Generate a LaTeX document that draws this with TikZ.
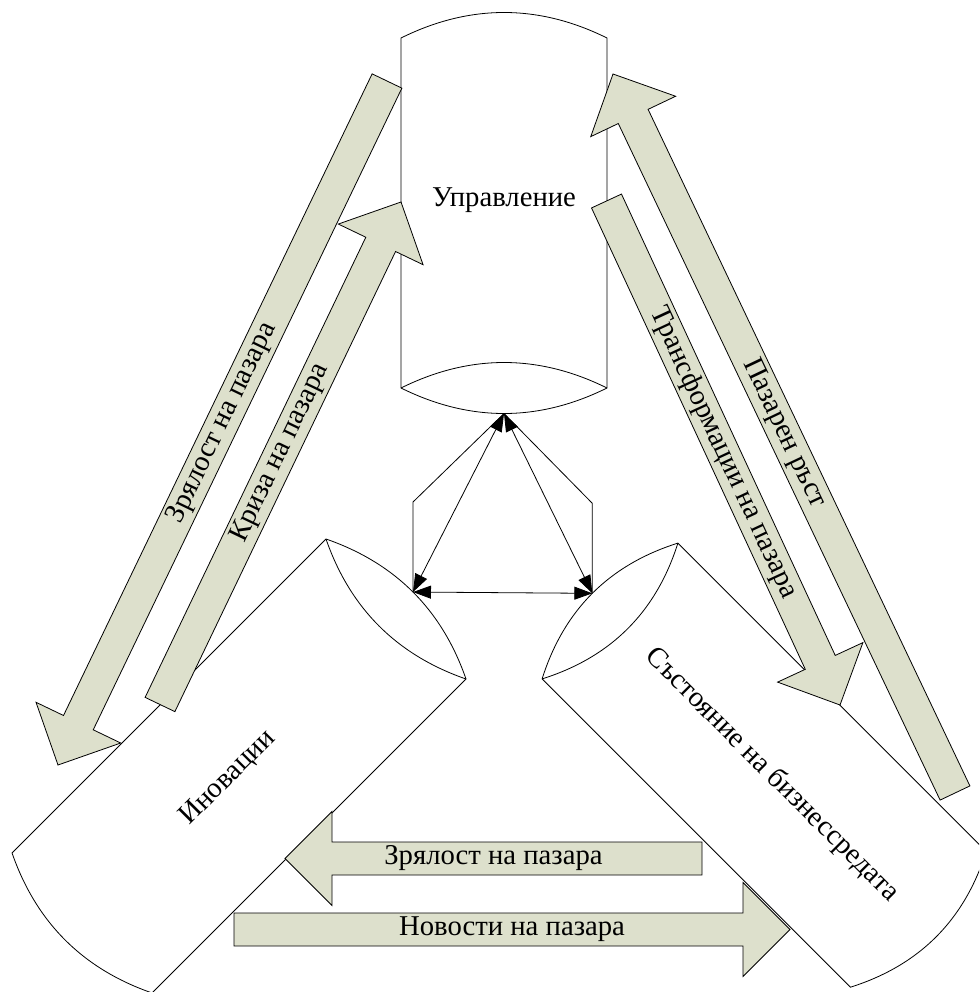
\documentclass[tikz,border=0pt]{standalone}
\usepackage{fontspec}
\setmainfont{Liberation Serif}
\usetikzlibrary{calc,arrows.meta}
\definecolor{arrowfill}{RGB}{221,224,204}
\tikzset{
  cyl/.style={draw=black, fill=white, line width=0.8pt},
  barrow/.style={draw=black, fill=arrowfill, line width=0.8pt, line join=miter},
  lbl/.style={font=\fontsize{28.7}{32}\selectfont, inner sep=0pt},
  link/.style={draw=black, line width=0.8pt},
  dlink/.style={link, {Triangle[length=18pt,width=13pt]}-{Triangle[length=18pt,width=13pt]}},
}
% cylinder in local screen coordinates (y down): full end face at origin, body towards -y
\newcommand{\cylbody}[3]{%
  \filldraw[cyl] (-#1,0) -- (-#1,-#3)
    .. controls (-#1/3,-#3-1.3333*#2) and (#1/3,-#3-1.3333*#2) .. (#1,-#3)
    -- (#1,0)
    .. controls (#1/3,1.3333*#2) and (-#1/3,1.3333*#2) .. (-#1,0) -- cycle;
  \draw[cyl,fill=none] (-#1,0)
    .. controls (-#1/3,-1.3333*#2) and (#1/3,-1.3333*#2) .. (#1,0);
}
% block arrow from tail centre #1 to tip #2
\newcommand{\blockarr}[2]{%
  \coordinate (#1-hb) at ($(#2)!47pt!(#1)$);
  \filldraw[barrow] ($(#1)!16.5pt!90:(#2)$) -- ($(#1-hb)!16.5pt!90:(#2)$)
    -- ($(#1-hb)!47pt!90:(#2)$) -- (#2) -- ($(#1-hb)!47pt!-90:(#2)$)
    -- ($(#1-hb)!16.5pt!-90:(#2)$) -- ($(#1)!16.5pt!-90:(#2)$) -- cycle;
}
\begin{document}
\begin{tikzpicture}[x=1pt,y=-1pt]
\useasboundingbox (0,0) rectangle (979,992);
\clip (0,0) rectangle (979,992);

% cylinders
\begin{scope}[shift={(504,388)}]
  \cylbody{103}{25.5}{350}
  \coordinate (ut) at (0,25.5);
\end{scope}
\begin{scope}[shift={(396,609)}, rotate=135]
  \cylbody{99}{24}{444}
  \coordinate (il) at (0,24);
\end{scope}
\begin{scope}[shift={(610,611)}, rotate=-135]
  \cylbody{96}{25}{436}
  \coordinate (sr) at (0,25);
\end{scope}

\node[lbl] (upr) at (504,200) {Управление};
\node[lbl, rotate=45] (inov) at (228,778) {Иновации};
\node[lbl, rotate=-45] (sast) at (772,775) {Състояние на бизнессредата};

% links between the cylinders
\coordinate (bl) at ($(il)+(0,-90)$);
\coordinate (br) at ($(sr)+(0,-90)$);
\draw[link] (ut) -- (bl) -- (il);
\draw[link] (ut) -- (br) -- (sr);
\draw[dlink] (ut) -- (il);
\draw[dlink] (ut) -- (sr);
\draw[dlink] (il) -- (sr);

% block arrows
\coordinate (t1) at (387,81);    \coordinate (p1) at (58,765);
\coordinate (t2) at (160,704.5); \coordinate (p2) at (401,202);
\coordinate (t3) at (955,793);   \coordinate (p3) at (613,74);
\coordinate (t4) at (606.5,201); \coordinate (p4) at (840,705);
\coordinate (t5) at (702,858.5); \coordinate (p5) at (285,858.5);
\coordinate (t6) at (234,929.5); \coordinate (p6) at (790,929.5);
\blockarr{t1}{p1}
\blockarr{t2}{p2}
\blockarr{t3}{p3}
\blockarr{t4}{p4}
\blockarr{t5}{p5}
\blockarr{t6}{p6}

\node[lbl, rotate=64.3]  (a1) at ($(t1)!0.5!(p1)$) {Зрялост на пазара};
\node[lbl, rotate=64.4]  (a2) at ($(t2)!0.5!(p2)$) {Криза на пазара};
\node[lbl, rotate=-64.6] (a3) at ($(t3)!0.5!(p3)$) {Пазарен ръст};
\node[lbl, rotate=-65.1] (a4) at ($(t4)!0.5!(p4)$) {Трансформации на пазара};
\node[lbl] (a5) at ($(t5)!0.5!(p5)$) {Зрялост на пазара};
\node[lbl] (a6) at ($(t6)!0.5!(p6)$) {Новости на пазара};
\end{tikzpicture}
\end{document}
